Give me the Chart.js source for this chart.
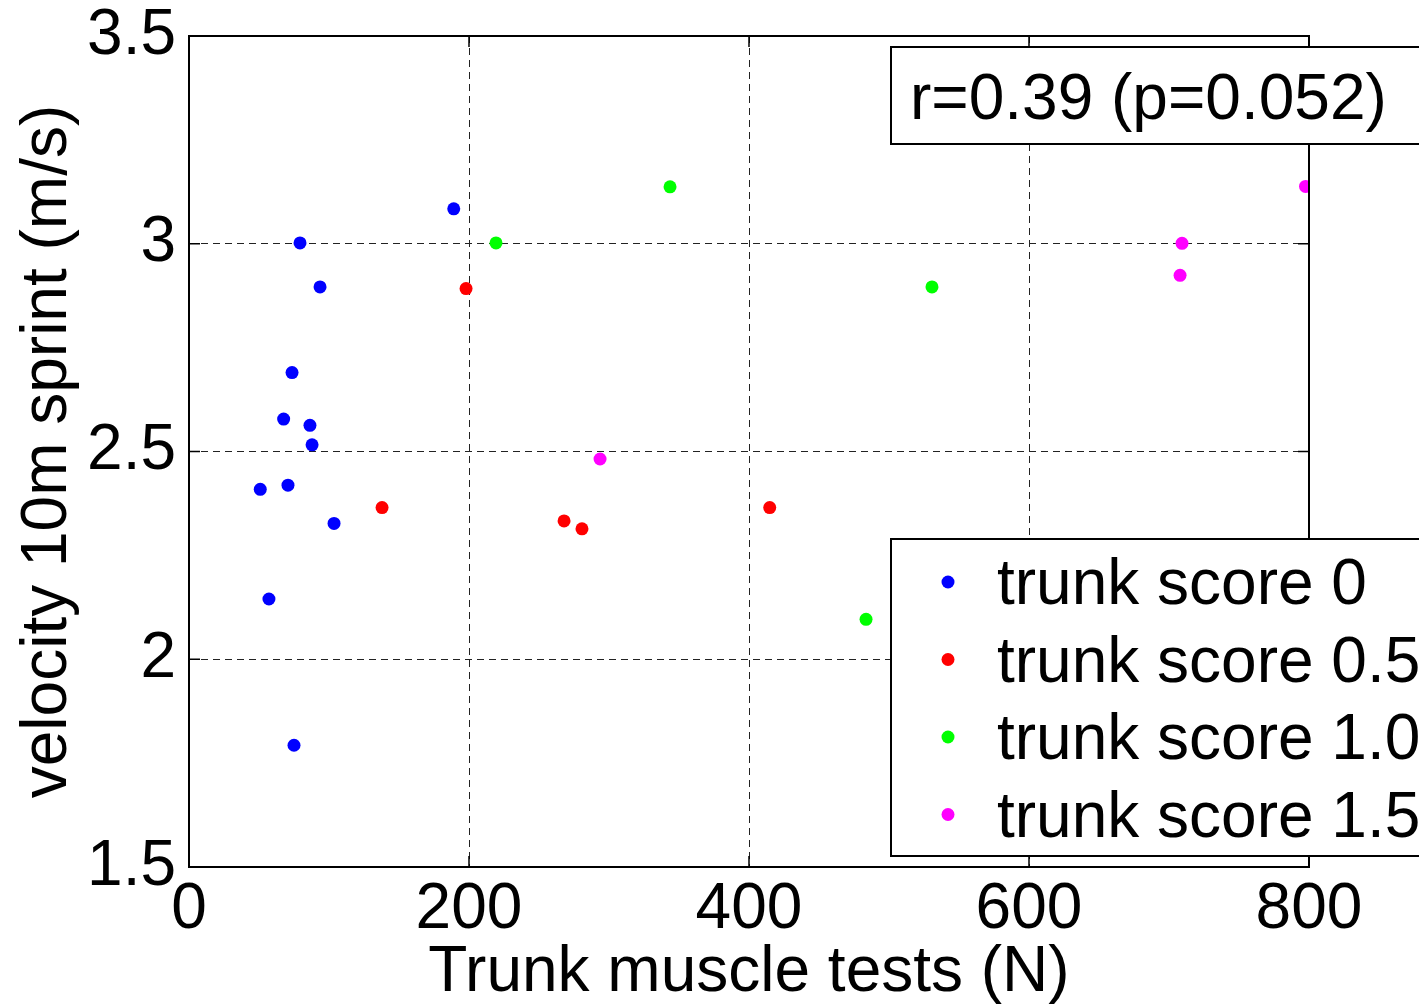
<!DOCTYPE html>
<html>
<head>
<meta charset="utf-8">
<script src="https://cdn.jsdelivr.net/npm/chart.js@4.4.1/dist/chart.umd.min.js"></script>
<style>
  body { margin: 0; background: #fff; }
  #wrap { width: 1419px; height: 1008px; }
</style>
</head>
<body>
<div id="wrap"><canvas id="sprintChart"></canvas></div>
<script>
// data
const seriesLabels = ["trunk score 0", "trunk score 0.5", "trunk score 1.0", "trunk score 1.5"];
const seriesColors = ["#0000ff", "#ff0000", "#00ff00", "#ff00ff"];

const score0X = [50.9, 57.1, 67.6, 70.7, 73.6, 75, 79.3, 86.4, 87.9, 93.6, 103.6, 189.1];
const score0Y = [2.409, 2.145, 2.578, 2.419, 2.69, 1.793, 3.002, 2.563, 2.516, 2.896, 2.327, 3.084];

const score05X = [137.9, 197.9, 267.9, 280.7, 414.8];
const score05Y = [2.365, 2.892, 2.333, 2.314, 2.365];

const score10X = [219.3, 343.6, 483.6, 530.7];
const score10Y = [3.002, 3.137, 2.096, 2.896];

const score15X = [293.6, 707.9, 709.3, 797.5];
const score15Y = [2.482, 2.924, 3.001, 3.138];

const xTicks = [0, 200, 400, 600, 800];
const yTicks = [1.5, 2, 2.5, 3, 3.5];
const yTickLabels = ["1.5", "2", "2.5", "3", "3.5"];
const statText = "r=0.39 (p=0.052)";

const FONT = "'Liberation Sans', Arial, sans-serif";

function toPoints(xs, ys) {
  return xs.map((v, i) => ({ x: v, y: ys[i] }));
}

const seriesX = [score0X, score05X, score10X, score15X];
const seriesY = [score0Y, score05Y, score10Y, score15Y];

const datasets = seriesLabels.map((label, i) => ({
  label: label,
  data: toPoints(seriesX[i], seriesY[i]),
  backgroundColor: seriesColors[i],
  borderColor: seriesColors[i],
  pointRadius: 6.5,
  pointBorderWidth: 0,
  showLine: false,
}));

// grid lines hidden on the box edges
function gridColor(min, max) {
  return (ctx) => {
    const v = ctx.tick ? ctx.tick.value : null;
    return v === min || v === max ? "rgba(0,0,0,0)" : "#222";
  };
}

// box, inward ticks, stat box and legend
const framePlugin = {
  id: "frame",
  afterDraw(chart) {
    const { ctx, chartArea: a, scales } = chart;
    ctx.save();
    ctx.strokeStyle = "#000";
    ctx.lineWidth = 2;
    ctx.strokeRect(a.left, a.top, a.right - a.left, a.bottom - a.top);

    ctx.lineWidth = 1.5;
    ctx.beginPath();
    xTicks.forEach((v) => {
      const px = scales.x.getPixelForValue(v);
      ctx.moveTo(px, a.bottom); ctx.lineTo(px, a.bottom - 11);
      ctx.moveTo(px, a.top); ctx.lineTo(px, a.top + 11);
    });
    yTicks.forEach((v) => {
      const py = scales.y.getPixelForValue(v);
      ctx.moveTo(a.left, py); ctx.lineTo(a.left + 11, py);
      ctx.moveTo(a.right, py); ctx.lineTo(a.right - 11, py);
    });
    ctx.stroke();

    // stat box
    ctx.fillStyle = "#fff";
    ctx.lineWidth = 2;
    ctx.fillRect(891, 47, 600, 97);
    ctx.strokeRect(891, 47, 600, 97);
    ctx.fillStyle = "#000";
    ctx.font = "64px " + FONT;
    ctx.textBaseline = "alphabetic";
    ctx.fillText(statText, 910, 119);

    // legend
    ctx.fillStyle = "#fff";
    ctx.fillRect(891, 539, 600, 317);
    ctx.strokeRect(891, 539, 600, 317);
    seriesLabels.forEach((label, i) => {
      const cy = 582 + i * 77.5;
      ctx.fillStyle = seriesColors[i];
      ctx.beginPath();
      ctx.arc(948, cy, 6.5, 0, Math.PI * 2);
      ctx.fill();
      ctx.fillStyle = "#000";
      ctx.fillText(label, 997, cy + 22);
    });
    ctx.restore();
  },
};

const ctxSprint = document.getElementById("sprintChart").getContext("2d");
const sprintChart = new Chart(ctxSprint, {
  type: "scatter",
  data: { datasets: datasets },
  plugins: [framePlugin],
  options: {
    responsive: true,
    maintainAspectRatio: false,
    animation: false,
    layout: { padding: { top: 36, right: 110, left: 0, bottom: 0 } },
    plugins: {
      legend: { display: false },
      tooltip: { enabled: false },
    },
    scales: {
      x: {
        type: "linear",
        min: 0,
        max: 800,
        afterFit(scale) {
          scale.height = 141;
          scale.paddingLeft = 0;
          scale.paddingRight = 0;
        },
        ticks: {
          stepSize: 200,
          color: "#000",
          padding: 11,
          font: { family: FONT, size: 64, lineHeight: 1 },
          maxRotation: 0,
        },
        grid: { color: gridColor(0, 800), lineWidth: 1, drawTicks: false },
        border: { display: false, dash: [7, 5] },
        title: {
          display: true,
          text: "Trunk muscle tests (N)",
          color: "#000",
          font: { family: FONT, size: 64, lineHeight: 1 },
          padding: { top: 0, bottom: 3 },
        },
      },
      y: {
        type: "linear",
        min: 1.5,
        max: 3.5,
        afterFit(scale) {
          scale.width = 189;
          scale.paddingTop = 0;
          scale.paddingBottom = 0;
        },
        ticks: {
          stepSize: 0.5,
          color: "#000",
          padding: 13,
          font: { family: FONT, size: 64, lineHeight: 1 },
          callback: (v) => yTickLabels[yTicks.indexOf(v)],
        },
        grid: { color: gridColor(1.5, 3.5), lineWidth: 1, drawTicks: false },
        border: { display: false, dash: [7, 5] },
        title: {
          display: true,
          text: "velocity 10m sprint (m/s)",
          color: "#000",
          font: { family: FONT, size: 64, lineHeight: 1 },
          padding: { top: 16, bottom: 0 },
        },
      },
    },
  },
});
</script>
</body>
</html>
